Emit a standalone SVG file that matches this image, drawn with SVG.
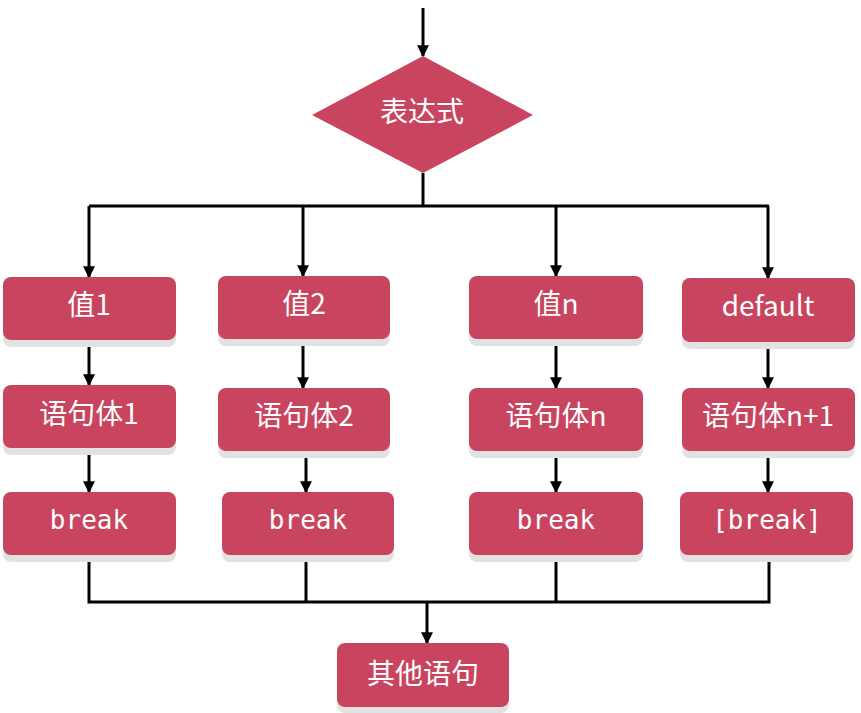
<svg xmlns="http://www.w3.org/2000/svg" width="861" height="713" viewBox="0 0 861 713">
<style>
.box{fill:#C9445E}
.sh{fill:#e2e2e2}
.t{fill:#ffffff;font-family:"Noto Sans CJK SC","Noto Sans",sans-serif;font-size:28px;text-anchor:middle;dominant-baseline:central}
.m{font-family:"DejaVu Sans Mono","Liberation Mono",monospace;font-size:26px}
.ln{fill:none;stroke:#000;stroke-width:3}
.ar{fill:none;stroke:#000;stroke-width:3;marker-end:url(#ah)}
</style>
<defs>
<marker id="ah" markerWidth="4" markerHeight="4" refX="3.6" refY="2" orient="auto" markerUnits="strokeWidth">
<path d="M0,0 L4,2 L0,4 Z" fill="#000"/>
</marker>
</defs>
<rect width="861" height="713" fill="#fff"/>
<g id="connectors">
<line class="ar" x1="423" y1="8" x2="423" y2="56"/>
<polyline class="ln" points="423,173 423,206"/>
<polyline class="ln" points="89,206 769,206"/>
<line class="ar" x1="89" y1="206" x2="89" y2="277"/>
<line class="ar" x1="303" y1="206" x2="303" y2="276"/>
<line class="ar" x1="556" y1="206" x2="556" y2="276"/>
<line class="ar" x1="768" y1="206" x2="768" y2="278"/>
<line class="ar" x1="89" y1="340" x2="89" y2="385"/>
<line class="ar" x1="89" y1="448" x2="89" y2="492"/>
<line class="ar" x1="303" y1="339" x2="303" y2="388"/>
<line class="ar" x1="306" y1="451" x2="306" y2="492"/>
<line class="ar" x1="556" y1="339" x2="556" y2="388"/>
<line class="ar" x1="556" y1="451" x2="556" y2="492"/>
<line class="ar" x1="768" y1="342" x2="768" y2="388"/>
<line class="ar" x1="768" y1="451" x2="768" y2="492"/>
<polyline class="ln" points="89,555 89,602 769,602 769,555"/>
<line class="ln" x1="306" y1="555" x2="306" y2="602"/>
<line class="ln" x1="556" y1="555" x2="556" y2="602"/>
<line class="ar" x1="427" y1="602" x2="427" y2="643"/>
</g>
<g id="expr">
<polygon points="423,56 533,115 423,173 312,115" class="box"/>
<text class="t" x="422" y="110">表达式</text>
</g>
<g id="v1"><rect class="sh" x="3" y="284" width="173" height="63" rx="8"/><rect class="box" x="3" y="277" width="173" height="63" rx="8"/><text class="t" x="89" y="303">值1</text></g>
<g id="v2"><rect class="sh" x="218" y="283" width="172" height="63" rx="8"/><rect class="box" x="218" y="276" width="172" height="63" rx="8"/><text class="t" x="304" y="302">值2</text></g>
<g id="vn"><rect class="sh" x="469" y="283" width="174" height="63" rx="8"/><rect class="box" x="469" y="276" width="174" height="63" rx="8"/><text class="t" x="556" y="302">值n</text></g>
<g id="vd"><rect class="sh" x="682" y="285" width="173" height="64" rx="8"/><rect class="box" x="682" y="278" width="173" height="64" rx="8"/><text class="t" x="768" y="304">default</text></g>
<g id="s1"><rect class="sh" x="3" y="392" width="173" height="63" rx="8"/><rect class="box" x="3" y="385" width="173" height="63" rx="8"/><text class="t" x="89" y="412">语句体1</text></g>
<g id="s2"><rect class="sh" x="218" y="395" width="172" height="63" rx="8"/><rect class="box" x="218" y="388" width="172" height="63" rx="8"/><text class="t" x="304" y="414">语句体2</text></g>
<g id="sn"><rect class="sh" x="469" y="395" width="174" height="63" rx="8"/><rect class="box" x="469" y="388" width="174" height="63" rx="8"/><text class="t" x="556" y="414">语句体n</text></g>
<g id="sd"><rect class="sh" x="682" y="395" width="173" height="63" rx="8"/><rect class="box" x="682" y="388" width="173" height="63" rx="8"/><text class="t" x="768" y="414">语句体n+1</text></g>
<g id="b1"><rect class="sh" x="3" y="499" width="173" height="63" rx="8"/><rect class="box" x="3" y="492" width="173" height="63" rx="8"/><text class="t m" x="89" y="520">break</text></g>
<g id="b2"><rect class="sh" x="222" y="499" width="172" height="63" rx="8"/><rect class="box" x="222" y="492" width="172" height="63" rx="8"/><text class="t m" x="308" y="520">break</text></g>
<g id="bn"><rect class="sh" x="469" y="499" width="174" height="63" rx="8"/><rect class="box" x="469" y="492" width="174" height="63" rx="8"/><text class="t m" x="556" y="520">break</text></g>
<g id="bd"><rect class="sh" x="680" y="499" width="173" height="63" rx="8"/><rect class="box" x="680" y="492" width="173" height="63" rx="8"/><text class="t m" x="767" y="520">[break]</text></g>
<g id="other"><rect class="sh" x="337" y="650" width="172" height="63" rx="8"/><rect class="box" x="337" y="643" width="172" height="64" rx="8"/><text class="t" x="423" y="672">其他语句</text></g>
</svg>
